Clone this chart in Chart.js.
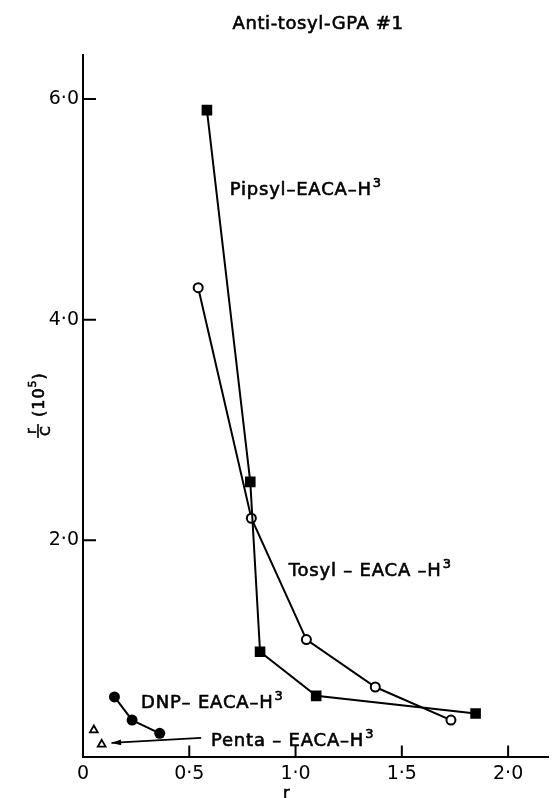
<!DOCTYPE html>
<html>
<head>
<meta charset="utf-8">
<script src="https://cdn.jsdelivr.net/npm/chart.js@4.4.0/dist/chart.umd.min.js"></script>
<style>
  html, body { margin: 0; padding: 0; background: #fff; }
  #wrap { width: 556px; height: 798px; }
</style>
</head>
<body>
<div id="wrap"><canvas id="scatchard"></canvas></div>
<script>
// values: r on x, r/C (x10^5) on y
var pipsylR = [0.583, 0.787, 0.833, 1.097, 1.847];
var pipsylRC = [5.90, 2.53, 0.99, 0.59, 0.43];
var tosylR = [0.542, 0.792, 1.051, 1.375, 1.731];
var tosylRC = [4.29, 2.20, 1.10, 0.67, 0.37];
var dnpR = [0.148, 0.231, 0.361];
var dnpRC = [0.58, 0.37, 0.25];
var pentaR = [0.051, 0.088];
var pentaRC = [0.28, 0.15];
var xTicks = [0, 0.5, 1.0, 1.5, 2.0];
var yTicks = [2.0, 4.0, 6.0];

function pts(xs, ys) {
  return xs.map(function (x, i) { return { x: x, y: ys[i] }; });
}

function dot(v) {
  return v === 0 ? '0' : v.toFixed(1).replace('.', '\u00b7');
}

var FONT = '"DejaVu Sans", sans-serif';

// filled text with a thin outline so it reads as heavy as the print
function ink(ctx, t, x, y) {
  ctx.fillText(t, x, y);
  ctx.strokeText(t, x, y);
}

// text with a raised superscript, left aligned at x, baseline y
function supText(ctx, main, sup, x, y, size) {
  ctx.font = size + 'px ' + FONT;
  ink(ctx, main, x, y);
  var w = ctx.measureText(main).width;
  ctx.font = Math.round(size * 0.7) + 'px ' + FONT;
  ink(ctx, sup, x + w + 1, y - size * 0.45);
}

var decor = {
  id: 'decor',
  afterDraw: function (chart) {
    var ctx = chart.ctx, xs = chart.scales.x, ys = chart.scales.y, a = chart.chartArea;
    ctx.save();
    ctx.strokeStyle = '#000';
    ctx.fillStyle = '#000';
    ctx.lineWidth = 2;

    // tick marks point into the plot
    ctx.beginPath();
    xTicks.forEach(function (v) {
      if (v === 0) return;
      var px = xs.getPixelForValue(v);
      ctx.moveTo(px, a.bottom);
      ctx.lineTo(px, a.bottom - 11);
    });
    yTicks.forEach(function (v) {
      var py = ys.getPixelForValue(v);
      ctx.moveTo(a.left, py);
      ctx.lineTo(a.left + 13, py);
    });
    ctx.stroke();

    // title
    ctx.lineWidth = 0.6;
    ctx.textBaseline = 'alphabetic';
    ctx.textAlign = 'center';
    ctx.letterSpacing = '0.6px';
    ctx.font = '18px ' + FONT;
    ink(ctx, 'Anti-tosyl-GPA #1', 318, 29);

    // series labels
    ctx.textAlign = 'left';
    ctx.letterSpacing = '0.8px';
    var labels = [
      ['Pipsyl\u2013EACA\u2013H', 0.690, 5.13],
      ['Tosyl \u2013 EACA \u2013H', 0.968, 1.674],
      ['DNP\u2013 EACA\u2013H', 0.273, 0.48],
      ['Penta \u2013 EACA\u2013H', 0.602, 0.136]
    ];
    labels.forEach(function (l) {
      supText(ctx, l[0], '3', xs.getPixelForValue(l[1]), ys.getPixelForValue(l[2]), 18);
    });

    // arrow from the Penta label to its points
    var x0 = xs.getPixelForValue(0.556), y0 = ys.getPixelForValue(0.208);
    var x1 = xs.getPixelForValue(0.134), y1 = ys.getPixelForValue(0.163);
    ctx.lineWidth = 1.7;
    ctx.beginPath();
    ctx.moveTo(x0, y0);
    ctx.lineTo(x1, y1);
    ctx.stroke();
    var ang = Math.atan2(y1 - y0, x1 - x0);
    ctx.beginPath();
    ctx.moveTo(x1, y1);
    ctx.lineTo(x1 - 10 * Math.cos(ang - 0.3), y1 - 10 * Math.sin(ang - 0.3));
    ctx.lineTo(x1 - 10 * Math.cos(ang + 0.3), y1 - 10 * Math.sin(ang + 0.3));
    ctx.closePath();
    ctx.fill();

    // x axis title
    ctx.lineWidth = 0.6;
    ctx.letterSpacing = '0px';
    ctx.font = '16px ' + FONT;
    ink(ctx, 'r', 283, 798);

    // y axis title: r/C (10^5), rotated
    ctx.translate(38, 438);
    ctx.rotate(-Math.PI / 2);
    ctx.textAlign = 'center';
    ctx.font = '14px ' + FONT;
    ink(ctx, 'r', 7, -2);
    ink(ctx, 'C', 7, 12);
    ctx.lineWidth = 1.6;
    ctx.beginPath();
    ctx.moveTo(0, 0);
    ctx.lineTo(14, 0);
    ctx.stroke();
    ctx.lineWidth = 0.6;
    ctx.textAlign = 'left';
    ctx.letterSpacing = '1px';
    ctx.font = '16px ' + FONT;
    ink(ctx, '(10', 21, 6);
    var w = ctx.measureText('(10').width;
    ctx.font = '11px ' + FONT;
    ink(ctx, '5', 21 + w, -2);
    ctx.font = '16px ' + FONT;
    ink(ctx, ')', 21 + w + 8, 6);
    ctx.restore();
  }
};

var ctxChart = document.getElementById('scatchard');

var chartGraph = new Chart(ctxChart, {
  type: 'scatter',
  data: {
    datasets: [
      {
        label: 'Pipsyl-EACA-H3',
        data: pts(pipsylR, pipsylRC),
        showLine: true,
        borderColor: '#000',
        borderWidth: 2,
        pointStyle: 'rect',
        pointRadius: 7.5,
        pointBackgroundColor: '#000',
        pointBorderWidth: 0
      },
      {
        label: 'Tosyl-EACA-H3',
        data: pts(tosylR, tosylRC),
        showLine: true,
        borderColor: '#000',
        borderWidth: 2,
        pointStyle: 'circle',
        pointRadius: 4.5,
        pointBackgroundColor: '#fff',
        pointBorderColor: '#000',
        pointBorderWidth: 2
      },
      {
        label: 'DNP-EACA-H3',
        data: pts(dnpR, dnpRC),
        showLine: true,
        borderColor: '#000',
        borderWidth: 2,
        pointStyle: 'circle',
        pointRadius: 5.5,
        pointBackgroundColor: '#000',
        pointBorderWidth: 0
      },
      {
        label: 'Penta-EACA-H3',
        data: pts(pentaR, pentaRC),
        showLine: false,
        pointStyle: 'triangle',
        pointRadius: 4.5,
        pointBackgroundColor: '#fff',
        pointBorderColor: '#000',
        pointBorderWidth: 1.8
      }
    ]
  },
  options: {
    responsive: true,
    maintainAspectRatio: false,
    animation: false,
    layout: { padding: { top: 55, right: 0, bottom: 0, left: 0 } },
    plugins: {
      legend: { display: false },
      tooltip: { enabled: false }
    },
    scales: {
      x: {
        type: 'linear',
        min: 0,
        max: 2.19,
        afterBuildTicks: function (s) { s.ticks = xTicks.map(function (v) { return { value: v }; }); },
        afterFit: function (s) { s.height = 41.5; },
        grid: { drawOnChartArea: false, drawTicks: false },
        border: { color: '#000', width: 2 },
        ticks: {
          color: '#000',
          padding: 6,
          font: { family: 'DejaVu Sans', size: 19 },
          callback: function (v) { return dot(v); }
        }
      },
      y: {
        type: 'linear',
        min: 0.04,
        max: 6.4,
        afterBuildTicks: function (s) { s.ticks = yTicks.map(function (v) { return { value: v }; }); },
        afterFit: function (s) { s.width = 83; },
        grid: { drawOnChartArea: false, drawTicks: false },
        border: { color: '#000', width: 2 },
        ticks: {
          color: '#000',
          padding: 4,
          font: { family: 'DejaVu Sans', size: 19 },
          callback: function (v) { return dot(v); }
        }
      }
    }
  },
  plugins: [decor]
});
</script>
</body>
</html>
